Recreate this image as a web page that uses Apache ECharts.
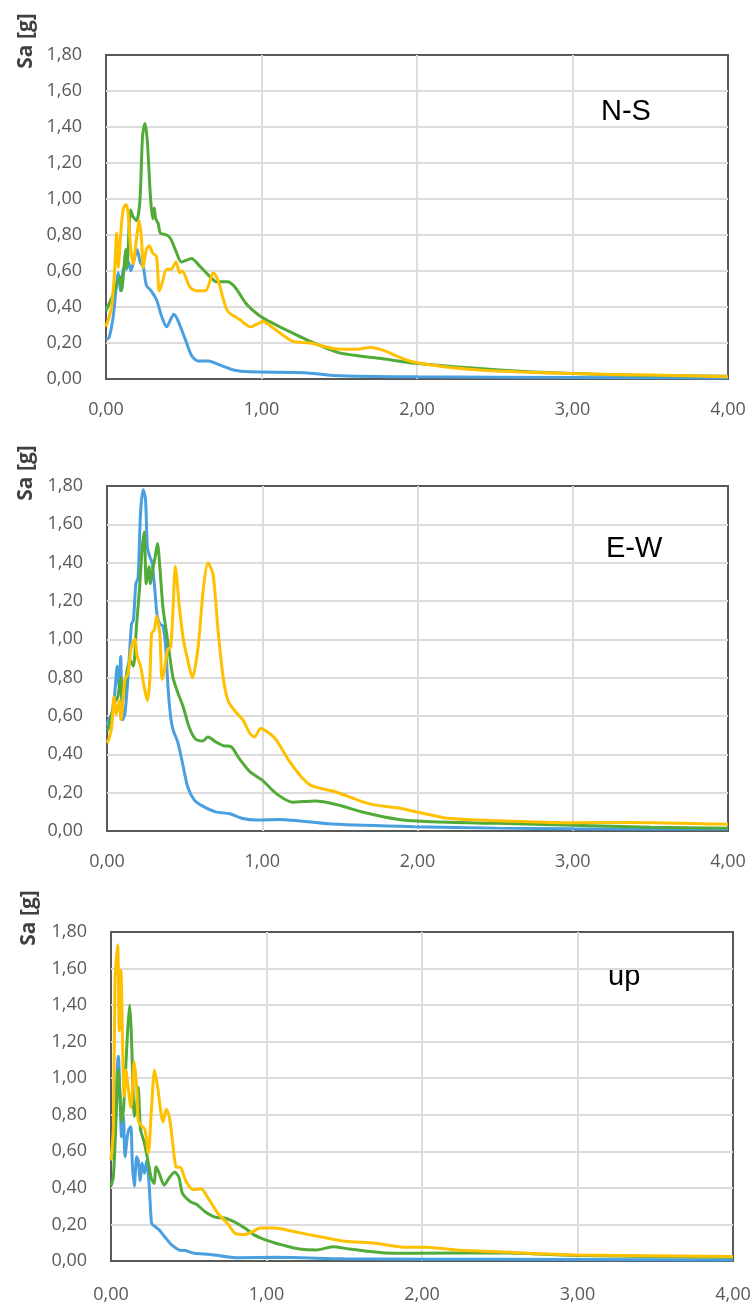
<!DOCTYPE html>
<html>
<head>
<meta charset="utf-8">
<title>Sa spectra</title>
<script src="https://cdn.jsdelivr.net/npm/echarts@6/dist/echarts.min.js"></script>
<style>
  html, body { margin: 0; padding: 0; background: #fff; }
  #chart { width: 755px; height: 1304px; }
</style>
</head>
<body>
<div id="chart"></div>
<script>
// tick values
var xTicks = [0, 1, 2, 3, 4];
var yTicks = [0, 0.2, 0.4, 0.6, 0.8, 1.0, 1.2, 1.4, 1.6, 1.8];
var panelNames = ["N-S", "E-W", "up"];

// N-S  [T, Sa]
var nsBlue = [[0,0.22],[0.02,0.23],[0.047,0.35],[0.079,0.59],[0.094,0.49],[0.115,0.62],[0.13,0.61],[0.145,0.65],[0.16,0.60],[0.18,0.66],[0.2,0.72],[0.22,0.65],[0.24,0.62],[0.26,0.52],[0.29,0.49],[0.325,0.44],[0.357,0.35],[0.39,0.29],[0.41,0.32],[0.436,0.36],[0.46,0.33],[0.51,0.22],[0.55,0.13],[0.59,0.10],[0.66,0.10],[0.73,0.078],[0.82,0.05],[0.92,0.04],[1.28,0.035],[1.46,0.02],[2.0,0.012],[3.0,0.008],[4.0,0.005]];
var nsGreen = [[0,0.38],[0.047,0.47],[0.09,0.57],[0.10,0.49],[0.128,0.72],[0.135,0.62],[0.158,0.94],[0.175,0.90],[0.197,0.88],[0.218,0.99],[0.235,1.35],[0.25,1.42],[0.265,1.33],[0.286,1.01],[0.30,0.89],[0.31,0.95],[0.32,0.89],[0.335,0.865],[0.35,0.81],[0.39,0.80],[0.415,0.78],[0.45,0.71],[0.485,0.65],[0.55,0.67],[0.60,0.63],[0.667,0.57],[0.71,0.54],[0.78,0.54],[0.83,0.51],[0.90,0.42],[0.99,0.35],[1.05,0.32],[1.14,0.28],[1.31,0.21],[1.50,0.145],[1.76,0.115],[1.99,0.087],[2.53,0.05],[3.0,0.03],[3.5,0.02],[4.0,0.015]];
var nsYellow = [[0,0.29],[0.036,0.40],[0.058,0.64],[0.068,0.81],[0.079,0.62],[0.094,0.80],[0.11,0.94],[0.128,0.97],[0.14,0.94],[0.158,0.735],[0.175,0.64],[0.192,0.75],[0.214,0.88],[0.229,0.77],[0.239,0.62],[0.26,0.72],[0.278,0.74],[0.30,0.70],[0.325,0.68],[0.342,0.49],[0.357,0.52],[0.39,0.61],[0.42,0.61],[0.45,0.65],[0.474,0.59],[0.49,0.60],[0.54,0.51],[0.58,0.49],[0.64,0.49],[0.69,0.59],[0.72,0.55],[0.78,0.38],[0.86,0.33],[0.93,0.29],[1.01,0.32],[1.08,0.28],[1.20,0.21],[1.31,0.20],[1.46,0.17],[1.60,0.165],[1.70,0.175],[1.78,0.16],[1.97,0.096],[2.4,0.05],[3.0,0.03],[3.5,0.022],[4.0,0.013]];

// E-W
var ewBlue = [[0,0.55],[0.01,0.58],[0.03,0.61],[0.05,0.72],[0.066,0.86],[0.079,0.75],[0.088,0.91],[0.10,0.58],[0.115,0.61],[0.137,0.82],[0.158,1.08],[0.17,1.10],[0.186,1.29],[0.20,1.32],[0.216,1.66],[0.233,1.78],[0.248,1.73],[0.26,1.48],[0.276,1.43],[0.29,1.40],[0.308,1.26],[0.322,1.13],[0.34,1.08],[0.36,1.07],[0.378,0.96],[0.393,0.75],[0.408,0.61],[0.425,0.53],[0.457,0.46],[0.49,0.34],[0.52,0.23],[0.564,0.16],[0.617,0.13],[0.70,0.10],[0.79,0.09],[0.875,0.065],[0.96,0.057],[1.11,0.06],[1.45,0.036],[1.98,0.022],[2.51,0.015],[3.0,0.012],[4.0,0.01]];
var ewGreen = [[0,0.52],[0.01,0.54],[0.05,0.67],[0.07,0.70],[0.088,0.80],[0.10,0.68],[0.13,0.84],[0.15,0.89],[0.17,0.86],[0.19,1.07],[0.21,1.27],[0.226,1.47],[0.24,1.56],[0.253,1.29],[0.27,1.38],[0.28,1.29],[0.296,1.37],[0.31,1.43],[0.325,1.50],[0.34,1.38],[0.36,1.17],[0.393,0.98],[0.425,0.80],[0.457,0.72],[0.49,0.65],[0.53,0.54],[0.57,0.48],[0.617,0.47],[0.65,0.49],[0.70,0.465],[0.75,0.445],[0.80,0.44],[0.85,0.38],[0.92,0.31],[1.0,0.265],[1.09,0.195],[1.195,0.15],[1.34,0.157],[1.47,0.14],[1.665,0.095],[1.88,0.06],[2.09,0.048],[2.52,0.04],[3.0,0.03],[3.5,0.02],[4.0,0.015]];
var ewYellow = [[0,0.46],[0.01,0.475],[0.03,0.54],[0.045,0.70],[0.06,0.61],[0.08,0.68],[0.09,0.58],[0.115,0.79],[0.135,0.82],[0.157,0.96],[0.18,1.00],[0.195,0.91],[0.216,0.86],[0.24,0.75],[0.26,0.68],[0.276,0.79],[0.287,1.03],[0.305,1.05],[0.32,1.12],[0.34,1.03],[0.355,0.79],[0.37,0.84],[0.39,0.945],[0.41,0.96],[0.426,1.17],[0.44,1.38],[0.466,1.17],[0.49,1.01],[0.515,0.91],[0.55,0.80],[0.587,0.96],[0.62,1.26],[0.65,1.40],[0.683,1.34],[0.715,1.05],[0.75,0.79],[0.78,0.68],[0.82,0.63],[0.875,0.58],[0.92,0.51],[0.95,0.49],[0.99,0.535],[1.045,0.51],[1.09,0.475],[1.17,0.37],[1.26,0.275],[1.32,0.235],[1.47,0.205],[1.62,0.16],[1.73,0.135],[1.88,0.12],[2.02,0.095],[2.2,0.066],[2.52,0.053],[3.0,0.043],[3.35,0.045],[4.0,0.035]];

// up
var upBlue = [[0,0.55],[0.025,0.79],[0.047,1.12],[0.058,0.90],[0.068,0.68],[0.08,0.79],[0.09,0.57],[0.105,0.68],[0.115,0.72],[0.128,0.735],[0.137,0.535],[0.15,0.41],[0.165,0.57],[0.175,0.55],[0.188,0.44],[0.2,0.535],[0.215,0.48],[0.23,0.55],[0.245,0.42],[0.26,0.21],[0.27,0.197],[0.31,0.17],[0.345,0.133],[0.39,0.088],[0.44,0.06],[0.48,0.057],[0.536,0.042],[0.64,0.036],[0.81,0.018],[1.06,0.02],[1.5,0.012],[2.0,0.01],[3.0,0.008],[4.0,0.006]];
var upGreen = [[0,0.41],[0.015,0.46],[0.03,0.72],[0.047,1.045],[0.058,0.90],[0.068,0.76],[0.08,0.83],[0.094,1.045],[0.107,1.26],[0.12,1.40],[0.13,1.26],[0.14,0.99],[0.15,0.79],[0.165,0.86],[0.175,0.95],[0.19,0.72],[0.215,0.645],[0.24,0.535],[0.26,0.45],[0.277,0.425],[0.29,0.515],[0.31,0.48],[0.342,0.415],[0.378,0.46],[0.41,0.485],[0.436,0.46],[0.46,0.37],[0.51,0.325],[0.55,0.31],[0.605,0.27],[0.67,0.24],[0.73,0.235],[0.79,0.215],[0.86,0.18],[0.92,0.143],[0.98,0.12],[1.05,0.10],[1.10,0.088],[1.21,0.066],[1.32,0.06],[1.425,0.078],[1.53,0.066],[1.745,0.045],[1.96,0.042],[2.49,0.045],[3.0,0.03],[4.0,0.02]];
var upYellow = [[0,0.55],[0.015,0.72],[0.026,1.54],[0.043,1.73],[0.053,1.26],[0.064,1.59],[0.077,1.08],[0.085,0.90],[0.096,1.045],[0.11,0.95],[0.128,0.84],[0.15,1.09],[0.165,0.95],[0.175,0.77],[0.196,0.74],[0.218,0.72],[0.24,0.59],[0.26,0.83],[0.28,1.045],[0.30,0.95],[0.335,0.76],[0.355,0.83],[0.375,0.79],[0.397,0.645],[0.418,0.515],[0.45,0.51],[0.48,0.44],[0.528,0.39],[0.58,0.395],[0.62,0.35],[0.688,0.26],[0.75,0.205],[0.80,0.15],[0.86,0.145],[0.91,0.16],[0.96,0.18],[1.05,0.18],[1.15,0.166],[1.28,0.143],[1.49,0.11],[1.70,0.097],[1.9,0.075],[2.03,0.075],[2.22,0.06],[2.49,0.05],[2.99,0.033],[4.0,0.025]];

var panels = [
  { blue: nsBlue, green: nsGreen, yellow: nsYellow },
  { blue: ewBlue, green: ewGreen, yellow: ewYellow },
  { blue: upBlue, green: upGreen, yellow: upYellow }
];

// layout of the three plot boxes
var boxes = [
  { left: 106, top: 55, right: 27, height: 324, xMargin: 22, sa: [26, 41], tag: [601, 126] },
  { left: 107, top: 486, right: 27, height: 345, xMargin: 22, sa: [26, 473], tag: [606, 563] },
  { left: 111, top: 932, right: 22, height: 329, xMargin: 25, sa: [29, 918], tag: [608, 991] }
];

var colors = { blue: "#4a9fe0", green: "#52ab38", yellow: "#ffc000" };
var labelColor = "#595959";
var labelFont = "'Open Sans', sans-serif";

function comma(v) {
  return v.toFixed(2).replace(".", ",");
}

var grid = [], xAxis = [], yAxis = [], series = [], graphic = [];

boxes.forEach(function (b, i) {
  grid.push({
    left: b.left, top: b.top, right: b.right, height: b.height,
    show: true, borderColor: "#595959", borderWidth: 2,
    containLabel: false, outerBoundsMode: "none"
  });
  // min/max split lines hidden so the dark frame stays visible
  xAxis.push({
    type: "value", gridIndex: i,
    min: xTicks[0], max: xTicks[xTicks.length - 1], interval: 1,
    axisLine: { show: false }, axisTick: { show: false },
    splitLine: { show: true, showMinLine: false, showMaxLine: false, lineStyle: { color: "#dcdcdc", width: 2 } },
    axisLabel: { margin: b.xMargin, color: labelColor, fontSize: 18, fontFamily: labelFont, formatter: comma }
  });
  yAxis.push({
    type: "value", gridIndex: i,
    min: yTicks[0], max: yTicks[yTicks.length - 1], interval: 0.2,
    axisLine: { show: false }, axisTick: { show: false },
    splitLine: { show: true, showMinLine: false, showMaxLine: false, lineStyle: { color: "#dcdcdc", width: 2 } },
    axisLabel: { margin: 24, color: labelColor, fontSize: 18, fontFamily: labelFont, formatter: comma }
  });

  ["blue", "green", "yellow"].forEach(function (k) {
    series.push({
      type: "line", xAxisIndex: i, yAxisIndex: i,
      data: panels[i][k],
      smooth: 0.25, showSymbol: false, symbol: "none",
      lineStyle: { color: colors[k], width: 3 },
      animation: false
    });
  });

  // "Sa [g]" vertical label
  graphic.push({
    type: "text", x: b.sa[0], y: b.sa[1], rotation: Math.PI / 2,
    style: {
      text: "Sa [g]", fill: "#404040", font: "bold 21px 'Open Sans', sans-serif",
      textAlign: "center", textVerticalAlign: "middle"
    }
  });
  // component tag
  graphic.push({
    type: "text", x: b.tag[0], y: b.tag[1],
    style: {
      text: panelNames[i], fill: "#000", font: "29px 'Liberation Sans', Arial, sans-serif",
      textAlign: "left", textVerticalAlign: "bottom"
    }
  });
});

var chart = echarts.init(document.getElementById("chart"));
chart.setOption({
  animation: false,
  grid: grid,
  xAxis: xAxis,
  yAxis: yAxis,
  series: series,
  graphic: graphic
});
</script>
</body>
</html>
